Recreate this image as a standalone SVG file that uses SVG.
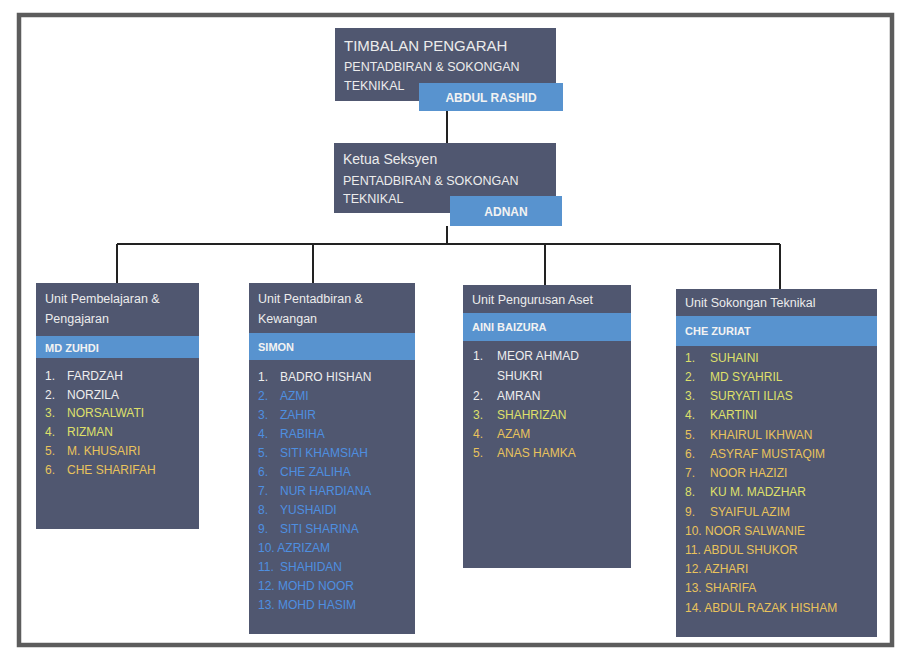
<svg xmlns="http://www.w3.org/2000/svg" width="899" height="654" viewBox="0 0 899 654">
<style>
  .box { fill: #505770; }
  .bar { fill: #5893cf; }
  .t { font-family: "Liberation Sans", Arial, sans-serif; fill: #ececec; }
  .title { font-size: 15px; }
  .sub { font-size: 12.5px; }
  .head { font-size: 12.5px; }
  .name { font-size: 12px; font-weight: bold; fill: #f2f2f2; }
  .li { font-family: "Liberation Sans", Arial, sans-serif; font-size: 12px; }
  .w { fill: #eeeeee; }
  .y { fill: #dfe06a; }
  .o { fill: #e9c35c; }
  .b { fill: #4e8fe0; }
  .conn { stroke: #222; stroke-width: 2; fill: none; }
</style>
<rect x="0" y="0" width="899" height="654" fill="#ffffff"/>
<rect x="19" y="15" width="873" height="630" fill="none" stroke="#5c5c5c" stroke-width="4.5"/>

<g id="connectors">
  <line class="conn" x1="447" y1="111" x2="447" y2="143"/>
  <line class="conn" x1="447" y1="226" x2="447" y2="244"/>
  <line class="conn" x1="117" y1="244" x2="780" y2="244"/>
  <line class="conn" x1="117" y1="244" x2="117" y2="283"/>
  <line class="conn" x1="313" y1="244" x2="313" y2="283"/>
  <line class="conn" x1="545" y1="244" x2="545" y2="285"/>
  <line class="conn" x1="780" y1="244" x2="780" y2="289"/>
</g>

<g id="node-timbalan">
  <rect class="box" x="335" y="28" width="221" height="73"/>
  <text class="t title" x="344" y="51">TIMBALAN PENGARAH</text>
  <text class="t sub" x="344" y="71">PENTADBIRAN &amp; SOKONGAN</text>
  <text class="t sub" x="344" y="90">TEKNIKAL</text>
  <rect class="bar" x="419" y="83" width="144" height="28"/>
  <text class="t name" x="491" y="102" text-anchor="middle">ABDUL RASHID</text>
</g>

<g id="node-ketua">
  <rect class="box" x="334" y="143" width="222" height="70"/>
  <text class="t title" x="343" y="164" style="font-size:14px">Ketua Seksyen</text>
  <text class="t sub" x="343" y="185">PENTADBIRAN &amp; SOKONGAN</text>
  <text class="t sub" x="343" y="203">TEKNIKAL</text>
  <rect class="bar" x="450" y="196" width="112" height="30"/>
  <text class="t name" x="506" y="216" text-anchor="middle">ADNAN</text>
</g>

<g id="node-pembelajaran">
  <rect class="box" x="36" y="283" width="163" height="246"/>
  <text class="t head" x="45" y="303">Unit Pembelajaran &amp;</text>
  <text class="t head" x="45" y="323">Pengajaran</text>
  <rect class="bar" x="36" y="336" width="163" height="22"/>
  <text class="t name" x="45" y="352" style="font-size:11px">MD ZUHDI</text>
  <g class="li">
    <text class="w" x="45" y="380">1.</text><text class="w" x="67" y="380">FARDZAH</text>
    <text class="w" x="45" y="399">2.</text><text class="w" x="67" y="399">NORZILA</text>
    <text class="y" x="45" y="417">3.</text><text class="y" x="67" y="417">NORSALWATI</text>
    <text class="y" x="45" y="436">4.</text><text class="y" x="67" y="436">RIZMAN</text>
    <text class="o" x="45" y="455">5.</text><text class="o" x="67" y="455">M. KHUSAIRI</text>
    <text class="o" x="45" y="474">6.</text><text class="o" x="67" y="474">CHE SHARIFAH</text>
  </g>
</g>

<g id="node-pentadbiran">
  <rect class="box" x="249" y="283" width="166" height="351"/>
  <text class="t head" x="258" y="303">Unit Pentadbiran &amp;</text>
  <text class="t head" x="258" y="323">Kewangan</text>
  <rect class="bar" x="249" y="333" width="166" height="27"/>
  <text class="t name" x="258" y="351" style="font-size:11px">SIMON</text>
  <g class="li">
    <text class="w" x="258" y="381">1.</text><text class="w" x="280" y="381">BADRO HISHAN</text>
    <text class="b" x="258" y="400">2.</text><text class="b" x="280" y="400">AZMI</text>
    <text class="b" x="258" y="419">3.</text><text class="b" x="280" y="419">ZAHIR</text>
    <text class="b" x="258" y="438">4.</text><text class="b" x="280" y="438">RABIHA</text>
    <text class="b" x="258" y="457">5.</text><text class="b" x="280" y="457">SITI KHAMSIAH</text>
    <text class="b" x="258" y="476">6.</text><text class="b" x="280" y="476">CHE ZALIHA</text>
    <text class="b" x="258" y="495">7.</text><text class="b" x="280" y="495">NUR HARDIANA</text>
    <text class="b" x="258" y="514">8.</text><text class="b" x="280" y="514">YUSHAIDI</text>
    <text class="b" x="258" y="533">9.</text><text class="b" x="280" y="533">SITI SHARINA</text>
    <text class="b" x="258" y="552">10. AZRIZAM</text>
    <text class="b" x="258" y="571">11.</text><text class="b" x="280" y="571">SHAHIDAN</text>
    <text class="b" x="258" y="590">12. MOHD NOOR</text>
    <text class="b" x="258" y="609">13. MOHD HASIM</text>
  </g>
</g>

<g id="node-aset">
  <rect class="box" x="463" y="285" width="168" height="283"/>
  <text class="t head" x="472" y="304">Unit Pengurusan Aset</text>
  <rect class="bar" x="463" y="313" width="168" height="28"/>
  <text class="t name" x="472" y="331" style="font-size:11px">AINI BAIZURA</text>
  <g class="li">
    <text class="w" x="473" y="360">1.</text><text class="w" x="497" y="360">MEOR AHMAD</text>
    <text class="w" x="497" y="380">SHUKRI</text>
    <text class="w" x="473" y="400">2.</text><text class="w" x="497" y="400">AMRAN</text>
    <text class="y" x="473" y="419">3.</text><text class="y" x="497" y="419">SHAHRIZAN</text>
    <text class="o" x="473" y="438">4.</text><text class="o" x="497" y="438">AZAM</text>
    <text class="o" x="473" y="457">5.</text><text class="o" x="497" y="457">ANAS HAMKA</text>
  </g>
</g>

<g id="node-sokongan">
  <rect class="box" x="676" y="289" width="201" height="348"/>
  <text class="t head" x="685" y="307">Unit Sokongan Teknikal</text>
  <rect class="bar" x="676" y="316" width="201" height="30"/>
  <text class="t name" x="685" y="335" style="font-size:11px">CHE ZURIAT</text>
  <g class="li">
    <text class="y" x="685" y="362">1.</text><text class="y" x="710" y="362">SUHAINI</text>
    <text class="y" x="685" y="381">2.</text><text class="y" x="710" y="381">MD SYAHRIL</text>
    <text class="y" x="685" y="400">3.</text><text class="y" x="710" y="400">SURYATI ILIAS</text>
    <text class="y" x="685" y="419">4.</text><text class="y" x="710" y="419">KARTINI</text>
    <text class="o" x="685" y="439">5.</text><text class="o" x="710" y="439">KHAIRUL IKHWAN</text>
    <text class="o" x="685" y="458">6.</text><text class="o" x="710" y="458">ASYRAF MUSTAQIM</text>
    <text class="o" x="685" y="477">7.</text><text class="o" x="710" y="477">NOOR HAZIZI</text>
    <text class="y" x="685" y="496">8.</text><text class="y" x="710" y="496">KU M. MADZHAR</text>
    <text class="o" x="685" y="516">9.</text><text class="o" x="710" y="516">SYAIFUL AZIM</text>
    <text class="o" x="685" y="535">10. NOOR SALWANIE</text>
    <text class="o" x="685" y="554">11. ABDUL SHUKOR</text>
    <text class="o" x="685" y="573">12. AZHARI</text>
    <text class="o" x="685" y="592">13. SHARIFA</text>
    <text class="o" x="685" y="612">14. ABDUL RAZAK HISHAM</text>
  </g>
</g>
</svg>
